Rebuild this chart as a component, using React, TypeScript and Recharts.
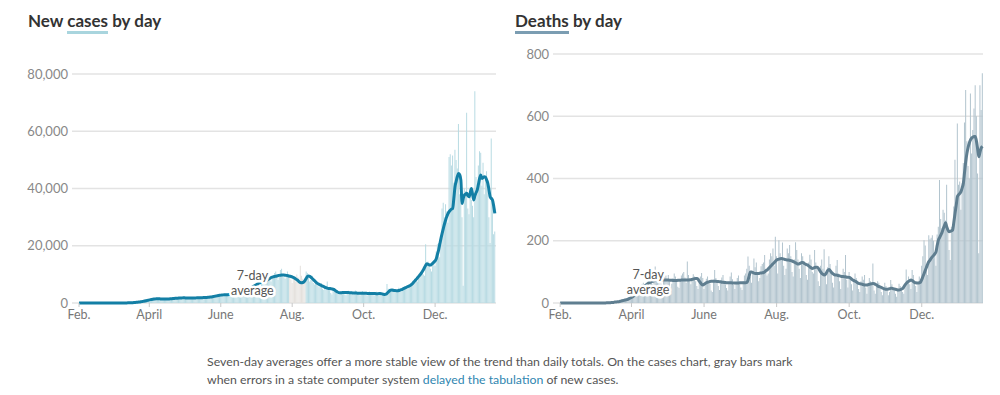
import { ComposedChart, Bar, Line, XAxis, YAxis, CartesianGrid, Cell, ReferenceDot } from "recharts";

// x axis is day index: 0 = Feb. 1, 2020 ... 355 = Jan. 21, 2021
const monthTicks = [0, 60, 121, 182, 243, 304];
const monthLabels = ["Feb.", "April", "June", "Aug.", "Oct.", "Dec."];
const caseTicks = [0, 20000, 40000, 60000, 80000];
const deathTicks = [0, 200, 400, 600, 800];
// days when the state computer system delayed tabulation (gray bars)
const delayedDays = [180, 193];

const dailyCases = [
  // Feb
  0, 0, 0, 0, 0, 0, 0, 0, 0, 0, 0, 0, 0, 0, 0, 0, 0, 0, 0, 0, 0, 0, 0, 0, 2, 1, 3, 2, 4,
  // Mar
  3, 5, 8, 10, 12, 15, 20, 18, 25, 30, 40, 45, 60, 70, 90, 110, 150, 180, 220, 300, 350, 400, 480, 550, 600, 700, 800, 900, 1000, 1100, 1200,
  // Apr
  1100, 1500, 1300, 1600, 1700, 1400, 1200, 1300, 1600, 1500, 1400, 1200, 1100, 1300, 1500, 1600, 1400, 1300, 1200, 1500,
  1600, 1800, 1700, 1500, 1300, 1600, 1800, 1900, 1700, 1500,
  // May
  1800, 1700, 1600, 1500, 1900, 2000, 2100, 1800, 1700, 1600, 1500, 1800, 2000, 1900, 1700, 1600, 1900, 2100, 2000, 1800,
  1700, 2000, 2200, 2100, 1900, 2200, 2400, 2300, 2500, 2600, 2400,
  // Jun
  2700, 2900, 3000, 2600, 2800, 3100, 3200, 2900, 2800, 3300, 3500, 3000, 2900, 3200, 3400, 3600, 3300, 3700, 3500, 4000,
  4300, 4500, 4200, 4800, 5000, 5600, 5200, 5800, 6200, 6500,
  // Jul
  6000, 6800, 7000, 5500, 5000, 7500, 8000, 8500, 7200, 7800, 8200, 9000, 8500, 7500, 8800, 9500, 10500, 11000, 9500, 8000,
  9200, 11500, 12000, 10000, 9000, 8500, 9800, 11000, 10000, 9500, 8000,
  // Aug
  7000, 8500, 9000, 7500, 10000, 9000, 8000, 13000, 9500, 8500, 7000, 9000, 11000, 10500, 9000, 7500, 8000, 9500, 7000, 6500,
  8000, 7500, 6000, 5500, 6500, 7000, 5000, 4500, 5500, 6000, 7500,
  // Sep
  5500, 4500, 3500, 3000, 4800, 5200, 4500, 3800, 3200, 2800, 3600, 4200, 4000, 3500, 3000, 2700, 3800, 4300, 4100, 3600,
  3200, 2900, 3500, 4400, 4000, 3700, 3100, 2600, 3400, 4200,
  // Oct
  3800, 3500, 3000, 2500, 3300, 4000, 3700, 3400, 2900, 2600, 3200, 3900, 3600, 3300, 2800, 2500, 3100, 3000, 2800, 3500,
  6600, 5000, 4200, 3800, 4600, 5200, 4800, 4200, 3900, 4700, 5300,
  // Nov
  4500, 4200, 5000, 5500, 5800, 5200, 4800, 5600, 6200, 6500, 6000, 7000, 7800, 8500, 8000, 7500, 8800, 9500, 10500, 11000,
  10000, 9500, 20500, 13500, 14500, 14000, 12000, 11000, 13000, 15000,
  // Dec
  13000, 18000, 20500, 21000, 16000, 22000, 33000, 35000, 30000, 34500, 32000, 28000, 51000, 52000, 48000, 51500, 42000, 53500, 50000, 47000,
  62500, 38000, 35000, 30000, 6000, 40000, 39000, 66500, 33000, 31000, 40000,
  // Jan
  36000, 34000, 30000, 74000, 44000, 38000, 48000, 53000, 52500, 41000, 49000, 38000, 43000, 46000, 40000, 30000, 21000, 57500, 37000, 24000,
  25000,
];

const avgCases = [
  // Feb
  0, 0, 0, 0, 0, 0, 0, 0, 0, 0, 0, 0, 0, 0, 0, 0, 0, 0, 0, 0, 0, 0, 0, 0, 0, 0, 0, 0, 0,
  // Mar
  2, 3, 5, 7, 9, 11, 13, 15, 18, 22, 27, 33, 40, 50, 62, 75, 95, 120, 150, 185, 225, 270, 320, 380, 450, 520, 600, 680, 770, 870, 980,
  // Apr
  1080, 1170, 1250, 1320, 1380, 1430, 1470, 1480, 1470, 1450, 1420, 1400, 1380, 1370, 1360, 1370, 1390, 1420, 1460, 1500,
  1540, 1580, 1620, 1650, 1680, 1710, 1740, 1770, 1790, 1800,
  // May
  1800, 1790, 1770, 1750, 1730, 1720, 1720, 1730, 1750, 1770, 1790, 1810, 1830, 1850, 1860, 1870, 1880, 1900, 1920, 1950,
  1980, 2020, 2070, 2130, 2200, 2280, 2360, 2440, 2520, 2600, 2680,
  // Jun
  2750, 2800, 2840, 2870, 2890, 2900, 2920, 2950, 2990, 3050, 3120, 3200, 3290, 3380, 3480, 3580, 3690, 3800, 3920, 4050,
  4200, 4360, 4530, 4710, 4900, 5100, 5320, 5550, 5800, 6050,
  // Jul
  6300, 6550, 6800, 7000, 7150, 7250, 7350, 7500, 7700, 7900, 8150, 8400, 8650, 8900, 9050, 9150, 9250, 9350, 9450, 9550,
  9650, 9700, 9750, 9770, 9750, 9700, 9650, 9550, 9450, 9350, 9250,
  // Aug
  9100, 8900, 8700, 8400, 8100, 7800, 7400, 7150, 7100, 7150, 7400, 7900, 8600, 9300, 9450, 9300, 9000, 8600, 8200, 7800,
  7400, 7000, 6700, 6500, 6300, 6100, 5900, 5700, 5500, 5350, 5200,
  // Sep
  5100, 5050, 5000, 4900, 4800, 4600, 4300, 4000, 3750, 3600, 3550, 3600, 3650, 3700, 3700, 3700, 3650, 3650, 3600, 3600,
  3550, 3500, 3500, 3450, 3450, 3400, 3400, 3400, 3400, 3400,
  // Oct
  3400, 3400, 3380, 3350, 3350, 3330, 3300, 3300, 3300, 3280, 3280, 3250, 3250, 3300, 3300, 3250, 3150, 3050, 3000, 3100,
  3400, 3800, 4200, 4450, 4500, 4450, 4400, 4350, 4300, 4300, 4350,
  // Nov
  4500, 4650, 4800, 5000, 5200, 5400, 5600, 5800, 5950, 6200, 6500, 6900, 7400, 7900, 8300, 8800, 9300, 9800, 10300, 10900,
  11600, 12400, 13200, 13700, 13500, 13300, 13250, 13500, 13900, 14300,
  // Dec
  14700, 15500, 17000, 18500, 20500, 22500, 24300, 26000, 27600, 29000, 30200, 31200, 31900, 32400, 32800, 33000, 36500, 40600, 42500, 44200,
  45200, 44800, 42900, 34800, 36500, 37700, 38000, 38300, 37500, 37100, 38500,
  // Jan
  40000, 38000, 36000, 37500, 38500, 39500, 41500, 43500, 44700, 43500, 43800, 44100, 44000, 43000, 41800, 39500, 37100, 36500, 36000, 34000,
  31300,
];

const dailyDeaths = [
  // Feb
  0, 0, 0, 0, 0, 0, 0, 0, 0, 0, 0, 0, 0, 0, 0, 0, 0, 0, 0, 0, 0, 0, 0, 0, 0, 0, 0, 0, 0,
  // Mar
  0, 0, 0, 0, 1, 0, 1, 0, 1, 1, 1, 1, 2, 2, 2, 3, 3, 4, 4, 5, 6, 6, 8, 8, 10, 12, 11, 14, 16, 18, 22,
  // Apr
  24, 30, 28, 35, 40, 45, 38, 42, 55, 60, 65, 58, 50, 62, 70, 75, 80, 72, 60, 68, 117, 78, 85, 90, 70, 62, 55, 70, 84, 88,
  // May
  75, 90, 68, 50, 62, 80, 95, 85, 70, 52, 48, 75, 88, 95, 100, 82, 65, 133, 90, 72, 60, 78, 92, 85, 70, 55, 45, 68, 85, 96, 80,
  // Jun
  45, 60, 78, 85, 70, 62, 40, 35, 75, 106, 80, 68, 55, 42, 70, 82, 90, 72, 60, 48, 40, 68, 85, 98, 76, 58, 45, 62, 80, 88,
  // Jul
  60, 50, 42, 70, 88, 95, 110, 149, 120, 85, 65, 100, 143, 115, 130, 96, 70, 80, 118, 125, 130, 154, 110, 88, 95, 140, 160, 150, 175, 120, 213,
  // Aug
  150, 95, 202, 160, 145, 194, 120, 90, 110, 175, 160, 186, 150, 100, 85, 140, 195, 170, 140, 110, 80, 160, 150, 135, 120, 90, 75, 130, 155, 140, 100,
  // Sep
  95, 170, 130, 110, 70, 55, 120, 140, 110, 173, 95, 60, 115, 150, 125, 100, 65, 50, 90, 120, 138, 95, 70, 45, 85, 110, 100, 154, 75, 50,
  // Oct
  100, 85, 60, 40, 75, 95, 80, 70, 45, 35, 70, 85, 75, 90, 50, 30, 55, 80, 70, 65, 127, 40, 30, 60, 70, 65, 55, 35, 25, 50, 65,
  // Nov
  55, 40, 25, 35, 74, 60, 50, 45, 30, 20, 40, 62, 55, 48, 35, 30, 50, 108, 70, 85, 60, 45, 106, 90, 70, 55, 35, 60, 85, 78,
  // Dec
  120, 150, 202, 185, 110, 90, 218, 205, 210, 218, 200, 160, 120, 220, 245, 395, 270, 240, 300, 290, 265, 380, 230, 170, 138, 245, 250, 310, 460, 300, 577,
  // Jan
  380, 390, 300, 385, 450, 580, 684, 520, 440, 400, 673, 480, 556, 625, 700, 600, 416, 160, 700, 620, 738,
];

const avgDeaths = [
  // Feb
  0, 0, 0, 0, 0, 0, 0, 0, 0, 0, 0, 0, 0, 0, 0, 0, 0, 0, 0, 0, 0, 0, 0, 0, 0, 0, 0, 0, 0,
  // Mar
  0, 0, 0, 0, 0, 0, 0, 0, 0, 0, 1, 1, 1, 1, 2, 2, 2, 3, 3, 4, 4, 5, 6, 7, 8, 9, 10, 11, 12, 14, 16,
  // Apr
  18, 20, 23, 26, 29, 32, 35, 38, 42, 46, 50, 54, 57, 60, 63, 65, 67, 69, 70, 71, 72, 73, 74, 74, 74, 74, 74, 74, 74, 74,
  // May
  74, 74, 73, 73, 73, 72, 72, 72, 72, 73, 73, 73, 74, 74, 74, 74, 74, 74, 74, 75, 75, 76, 77, 78, 79, 79, 76, 70, 65, 60, 58,
  // Jun
  60, 63, 65, 67, 68, 69, 70, 70, 70, 70, 70, 69, 69, 68, 68, 67, 67, 66, 66, 65, 65, 65, 65, 65, 64, 64, 64, 64, 64, 64,
  // Jul
  65, 65, 65, 65, 65, 65, 66, 74, 88, 100, 100, 98, 96, 95, 95, 95, 95, 96, 96, 97, 98, 100, 104, 106, 110, 114, 118, 122, 126, 130, 134,
  // Aug
  138, 140, 141, 142, 143, 142, 141, 140, 139, 138, 138, 137, 136, 135, 133, 131, 129, 127, 125, 126, 128, 130, 130, 128, 125, 123, 122, 119, 116, 113, 111,
  // Sep
  112, 114, 115, 115, 112, 106, 100, 95, 92, 90, 92, 98, 105, 108, 104, 99, 95, 92, 90, 90, 89, 88, 87, 86, 85, 85, 84, 84, 83, 83,
  // Oct
  82, 80, 77, 74, 72, 70, 68, 65, 63, 62, 61, 60, 59, 58, 58, 58, 59, 60, 61, 62, 63, 62, 60, 58, 55, 53, 52, 50, 48, 46, 45,
  // Nov
  44, 44, 45, 46, 47, 47, 46, 45, 44, 43, 42, 42, 43, 45, 47, 52, 58, 63, 67, 70, 72, 74, 72, 69, 66, 65, 64, 64, 65, 67,
  // Dec
  75, 85, 95, 105, 115, 125, 133, 138, 144, 149, 153, 158, 165, 185, 202, 210, 218, 226, 238, 248, 258, 245, 235, 229, 230, 232, 235, 260, 288, 315, 342,
  // Jan
  348, 352, 358, 370, 385, 420, 455, 481, 500, 514, 524, 530, 533, 535, 535, 520, 495, 470, 485, 498, 504,
];

const rows = dailyCases.map((cases, day) => ({
  day,
  cases,
  casesAvg: avgCases[day],
  deaths: dailyDeaths[day],
  deathsAvg: avgDeaths[day],
}));

const FONT = "Lato, 'Open Sans', sans-serif";

function monthName(d: number) {
  const i = monthTicks.indexOf(d);
  return i >= 0 ? monthLabels[i] : "";
}

// "7-day average" annotation with a white halo, placed at a data point
function avgLabel(props: any) {
  const { cx, cy } = props;
  const common = {
    x: cx,
    textAnchor: "middle" as const,
    fontSize: 12.5,
    fill: "#555",
    stroke: "#fff",
    strokeWidth: 5,
    strokeLinejoin: "round" as const,
    paintOrder: "stroke",
    fontFamily: FONT,
  };
  return (
    <g>
      <text {...common} y={cy - 3}>7-day</text>
      <text {...common} y={cy + 12}>average</text>
    </g>
  );
}

interface PanelProps {
  barKey: string;
  avgKey: string;
  yTicks: number[];
  xMax: number;
  plotLeft: number;
  top: number;
  right: number;
  barColor: string;
  lineColor: string;
  labelAt: { x: number; y: number };
  grayBars?: boolean;
}

const Y_AXIS_W = 50;

function Panel({ barKey, avgKey, yTicks, xMax, plotLeft, top, right, barColor, lineColor, labelAt, grayBars }: PanelProps) {
  return (
    <ComposedChart
      width={500}
      height={330}
      data={rows}
      margin={{ top, right, bottom: 5, left: plotLeft - Y_AXIS_W }}
      style={{ fontFamily: FONT }}
    >
      <CartesianGrid vertical={false} stroke="#e3e3e3" strokeWidth={1.5} />
      <XAxis
        dataKey="day"
        type="number"
        domain={[-6, xMax]}
        ticks={monthTicks}
        interval={0}
        tickFormatter={monthName}
        axisLine={false}
        tickLine={{ stroke: "#c8c8c8" }}
        tickSize={4}
        tickMargin={3}
        height={22}
        tick={{ fill: "#777", fontSize: 12.5 }}
      />
      <YAxis
        type="number"
        domain={[0, yTicks[yTicks.length - 1]]}
        ticks={yTicks}
        interval={0}
        width={Y_AXIS_W}
        axisLine={false}
        tickLine={false}
        tickSize={0}
        tickMargin={4}
        tickFormatter={(v: number) => v.toLocaleString("en-US")}
        tick={{ fill: "#888", fontSize: 13 }}
      />
      <Bar dataKey={barKey} barSize={1} fill={barColor} isAnimationActive={false}>
        {rows.map((r) => (
          <Cell
            key={r.day}
            fill={grayBars && r.day >= delayedDays[0] && r.day <= delayedDays[1] ? "#e4e1dd" : barColor}
          />
        ))}
      </Bar>
      <Line
        dataKey={avgKey}
        type="monotone"
        stroke={lineColor}
        strokeWidth={3}
        dot={false}
        activeDot={false}
        strokeLinejoin="round"
        isAnimationActive={false}
      />
      <ReferenceDot x={labelAt.x} y={labelAt.y} r={0} shape={avgLabel} />
    </ComposedChart>
  );
}

const titleStyle: React.CSSProperties = {
  position: "absolute",
  top: 11,
  fontFamily: FONT,
  fontWeight: 700,
  fontSize: 17,
  lineHeight: "20px",
  color: "#333",
  whiteSpace: "nowrap",
};

export default function App() {
  return (
    <div style={{ position: "absolute", left: 0, top: 0, width: 1000, height: 395, background: "#fff", fontFamily: FONT }}>
      <div style={{ ...titleStyle, left: 28 }}>
        New <span style={{ borderBottom: "3px solid #a9d5de" }}>cases</span> by day
      </div>
      <div style={{ ...titleStyle, left: 515 }}>
        <span style={{ borderBottom: "3px solid #7b9db2" }}>Deaths</span> by day
      </div>
      <div style={{ position: "absolute", left: 0, top: 0 }}>
        <Panel
          barKey="cases"
          avgKey="casesAvg"
          yTicks={caseTicks}
          xMax={356}
          plotLeft={72}
          top={74}
          right={4}
          barColor="#b8dbe3"
          lineColor="#137fa5"
          labelAt={{ x: 148, y: 7000 }}
          grayBars
        />
      </div>
      <div style={{ position: "absolute", left: 500, top: 0 }}>
        <Panel
          barKey="deaths"
          avgKey="deathsAvg"
          yTicks={deathTicks}
          xMax={355.5}
          plotLeft={53}
          top={54}
          right={17}
          barColor="#b2c4ce"
          lineColor="#5f7e90"
          labelAt={{ x: 74, y: 66 }}
        />
      </div>
      <div
        style={{
          position: "absolute",
          left: 207,
          top: 353,
          fontSize: 12.3,
          lineHeight: "18px",
          color: "#555",
          whiteSpace: "nowrap",
        }}
      >
        Seven-day averages offer a more stable view of the trend than daily totals. On the cases chart, gray bars mark
        <br />
        when errors in a state computer system <span style={{ color: "#2f86b0" }}>delayed the tabulation</span> of new cases.
      </div>
    </div>
  );
}
